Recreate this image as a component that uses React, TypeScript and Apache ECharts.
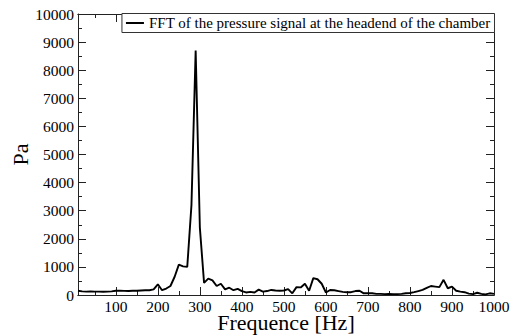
import React, { useEffect, useRef } from "react";
import * as echarts from "echarts";

const freq = [
  10, 20, 30, 40, 50, 60, 70, 80, 90, 100,
  110, 120, 130, 140, 150, 160, 170, 180, 190, 200,
  210, 220, 230, 240, 250, 260, 270, 280, 290, 300,
  310, 320, 330, 340, 350, 360, 370, 380, 390, 400,
  410, 420, 430, 440, 450, 460, 470, 480, 490, 500,
  510, 520, 530, 540, 550, 560, 570, 580, 590, 600,
  610, 620, 630, 640, 650, 660, 670, 680, 690, 700,
  710, 720, 730, 740, 750, 760, 770, 780, 790, 800,
  810, 820, 830, 840, 850, 860, 870, 880, 890, 900,
  910, 920, 930, 940, 950, 960, 970, 980, 990, 1000,
];

const pressure = [
  150, 130, 120, 130, 120, 120, 115, 120, 130, 150,
  150, 145, 140, 150, 150, 160, 170, 170, 200, 380,
  170, 230, 320, 650, 1080, 1020, 1000, 3200, 8700, 2400,
  430, 580, 520, 320, 400, 200, 260, 170, 220, 140,
  90, 110, 90, 190, 120, 140, 180, 160, 150, 160,
  210, 60, 280, 270, 400, 150, 600, 560, 400, 90,
  180, 170, 140, 110, 100, 100, 140, 150, 60, 60,
  60, 40, 40, 30, 40, 30, 30, 40, 60, 70,
  100, 140, 180, 250, 320, 300, 280, 540, 240, 300,
  150, 120, 100, 50, 30, 80, 40, 20, 60, 40,
];

const xMajorTicks = [100, 200, 300, 400, 500, 600, 700, 800, 900, 1000];
const xMinorTicks = [50, 150, 250, 350, 450, 550, 650, 750, 850, 950];

const seriesName = "FFT of the pressure signal at the headend of the chamber";
const xName = "Frequence [Hz]";
const yName = "Pa";

const FONT = "Liberation Serif";
const AX = "#222";

export default function App() {
  const ref = useRef<HTMLDivElement>(null);
  useEffect(() => {
    if (!ref.current) return;
    const chart = echarts.init(ref.current, null, { renderer: "svg" });
    const fmt = (v: number) => String(v);
    const xBase = (position: string, ticks: number[], len: number, labels: boolean, extra: any = {}) => ({
      type: "value",
      position,
      min: 10,
      max: 1000,
      axisLine: { show: true, onZero: false, lineStyle: { color: AX, width: 1 } },
      axisTick: { show: true, inside: true, length: len, customValues: ticks, lineStyle: { color: AX, width: 1 } },
      axisLabel: labels
        ? { show: true, customValues: ticks, formatter: fmt, color: "#000", fontFamily: FONT, fontSize: 15.5, lineHeight: 14, margin: 4 }
        : { show: false },
      splitLine: { show: false },
      ...extra,
    });
    const yBase = (position: string, labels: boolean, extra: any = {}) => ({
      type: "value",
      position,
      min: 0,
      max: 10000,
      interval: 1000,
      axisLine: { show: true, onZero: false, lineStyle: { color: AX, width: 1 } },
      axisTick: { show: true, inside: true, length: 8, lineStyle: { color: AX, width: 1 } },
      minorTick: { show: true, splitNumber: 2, length: 4, lineStyle: { color: AX, width: 1 } },
      axisLabel: labels
        ? { show: true, formatter: fmt, color: "#000", fontFamily: FONT, fontSize: 15.5, margin: 4 }
        : { show: false },
      splitLine: { show: false },
      ...extra,
    });
    chart.setOption({
      animation: false,
      backgroundColor: "#fff",
      textStyle: { fontFamily: FONT },
      grid: { left: 78, right: 20, top: 14, bottom: 41, containLabel: false, outerBoundsMode: "none" },
      legend: {
        show: true,
        right: 19.5,
        top: 13.5,
        data: [{ name: seriesName, icon: "rect" }],
        itemWidth: 18,
        itemHeight: 2,
        itemGap: 5,
        padding: [2, 4, 2, 4],
        borderColor: "#333",
        borderWidth: 1,
        borderRadius: 0,
        backgroundColor: "#fff",
        textStyle: { color: "#000", fontFamily: FONT, fontSize: 15 },
      },
      xAxis: [
        xBase("bottom", xMajorTicks, 8, true, {
          name: xName,
          nameLocation: "middle",
          nameGap: 18,
          nameMoveOverlap: false,
          nameTextStyle: { color: "#000", fontFamily: FONT, fontSize: 22, lineHeight: 18 },
        }),
        xBase("bottom", xMinorTicks, 4, false),
        xBase("top", xMajorTicks, 8, false),
        xBase("top", xMinorTicks, 4, false),
      ],
      yAxis: [
        yBase("left", true, {
          name: yName,
          nameLocation: "middle",
          nameGap: 47,
          nameRotate: 90,
          nameMoveOverlap: false,
          nameTextStyle: { color: "#000", fontFamily: FONT, fontSize: 22 },
        }),
        yBase("right", false),
      ],
      series: [
        {
          name: seriesName,
          type: "line",
          xAxisIndex: 0,
          yAxisIndex: 0,
          data: freq.map((f, i) => [f, pressure[i]]),
          showSymbol: false,
          symbol: "none",
          lineStyle: { color: "#000", width: 1.9 },
          itemStyle: { color: "#000" },
        },
      ],
    });
    return () => chart.dispose();
  }, []);
  return <div ref={ref} style={{ width: 514, height: 336, position: "absolute", left: 0, top: 0 }} />;
}
